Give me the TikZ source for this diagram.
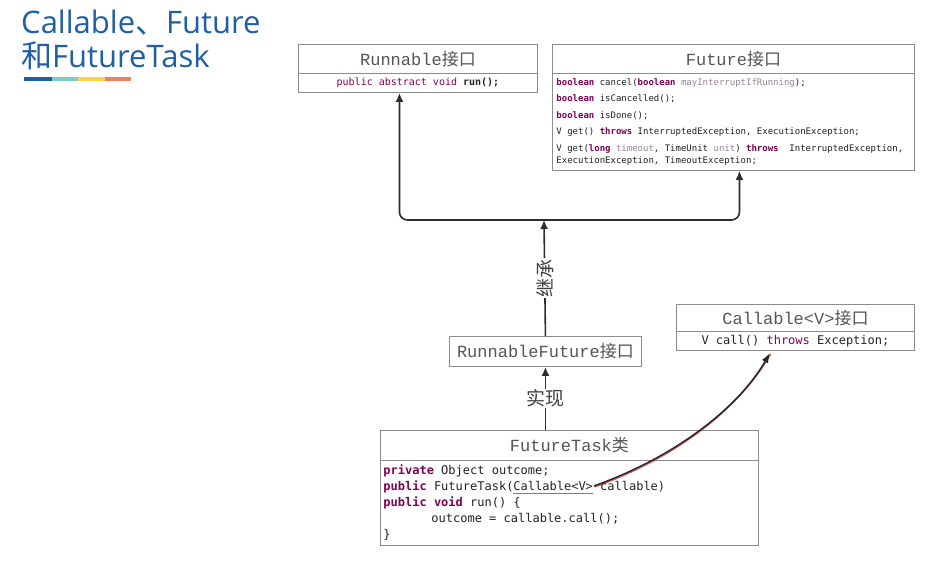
\documentclass[tikz,border=0pt]{standalone}
\usepackage{fontspec}
\usetikzlibrary{arrows.meta}
\setmainfont{Open Sans}
\setmonofont{DejaVu Sans Mono}
\newfontfamily\cjk{Noto Sans CJK SC}
\newfontfamily\titlemono{Liberation Mono}
\definecolor{ttlblue}{RGB}{31,95,166}
\definecolor{barteal}{RGB}{126,203,203}
\definecolor{baryellow}{RGB}{249,214,74}
\definecolor{barorange}{RGB}{240,128,96}
\definecolor{kw}{RGB}{127,0,85}
\definecolor{prm}{RGB}{150,130,150}
\definecolor{boxline}{RGB}{140,140,140}
\definecolor{conncol}{RGB}{45,45,45}
\definecolor{hdr}{RGB}{85,85,85}
\definecolor{codecol}{RGB}{34,34,34}
\newcommand\fixsp{\fontdimen2\font=0.602em\fontdimen3\font=0pt\fontdimen4\font=0pt\fontdimen7\font=0pt}
\newcommand\codesz[2]{\ttfamily\fontsize{#1}{#2}\selectfont\fixsp}
\newcommand\monosp{\spaceskip=0.602em\xspaceskip=0.602em\relax}
\newcommand\kwd[1]{{\color{kw}\bfseries\fixsp #1}}
\newcommand\kwl[1]{{\color{kw}#1}}
\newcommand\prm[1]{{\color{prm}#1}}
\newcommand\ulgray[1]{\setbox0\hbox{#1}\rlap{\color{gray}\rule[-3pt]{\wd0}{1.1pt}}\box0\relax}
\begin{document}
\begin{tikzpicture}[x=1pt,y=-1pt,
  box/.style={draw=boxline,line width=0.9pt,fill=white,inner sep=0pt,anchor=north west,text=codecol},
  hdrbox/.style={box,font=\titlemono\fontsize{17}{17}\selectfont,text=hdr},
  conn/.style={draw=conncol,line width=1.6pt,-{Latex[length=9pt,width=8pt]}},
  lbl/.style={fill=white,inner sep=1pt,font=\cjk\fontsize{19}{19}\selectfont,text=black!75}]

\useasboundingbox (0,0) rectangle (946,566);
\fill[white] (0,0) rectangle (946,566);

% title
\node[anchor=base west,inner sep=0pt,text=ttlblue,font=\fontsize{31}{36}\selectfont] (t1) at (21,33) {Callable{\cjk 、}Future};
\node[anchor=base west,inner sep=0pt,text=ttlblue,font=\fontsize{31}{36}\selectfont] (t2) at (21,67) {{\cjk 和}FutureTask};
\fill[ttlblue] (24,77) rectangle (52,81);
\fill[barteal] (52,77) rectangle (78,81);
\fill[baryellow] (78,77) rectangle (105,81);
\fill[barorange] (105,77) rectangle (131,81);

% Runnable
\node[hdrbox,minimum width=239pt,minimum height=29pt] (runH) at (298,44) {Runnable{\cjk 接口}};
\node[box,minimum width=239pt,minimum height=19pt,font=\codesz{10}{12}] (runB) at (298,73) {\kwl{public abstract void} \textbf{run();}};

% Future
\node[hdrbox,minimum width=362pt,minimum height=29pt] (futH) at (552,44) {Future{\cjk 接口}};
\node[box,minimum width=362pt,minimum height=97pt,text width=354pt,align=left,font=\codesz{9}{12.5}] (futB) at (552,73) {\monosp
\kwd{boolean} cancel(\kwd{boolean} \prm{mayInterruptIfRunning});\\[4pt]
\kwd{boolean} isCancelled();\\[4pt]
\kwd{boolean} isDone();\\[4pt]
V get() \kwd{throws} InterruptedException, ExecutionException;\\[4pt]
V get(\kwd{long} \prm{timeout}, TimeUnit \prm{unit}) \kwd{throws}\ \ InterruptedException,\\
ExecutionException, TimeoutException;};

% RunnableFuture
\node[hdrbox,minimum width=192pt,minimum height=30pt] (rf) at (449,336) {RunnableFuture{\cjk 接口}};

% Callable
\node[hdrbox,minimum width=238pt,minimum height=27pt] (caH) at (676,304) {Callable<V>{\cjk 接口}};
\node[box,minimum width=238pt,minimum height=19pt,font=\codesz{12}{14}] (caB) at (676,331) {V call() \kwl{throws} Exception;};

% FutureTask
\node[hdrbox,minimum width=378pt,minimum height=30pt] (ftH) at (380,430) {FutureTask{\cjk 类}};
\node[box,minimum width=378pt,minimum height=85pt,text width=372pt,align=left,font=\codesz{12}{16}] (ftB) at (380,460) {\monosp
\kwd{private} Object outcome;\\
\kwd{public} FutureTask(\ulgray{Callable<V>} callable)\\
\kwd{public void} run() \{\\
\hspace*{48pt}outcome = callable.call();\\
\}};

% connectors
\coordinate (jn) at (544,220);
\draw[conn,rounded corners=8pt] (jn) -| ([xshift=-18.5pt]runB.south);
\draw[conn,rounded corners=8pt] (jn) -| ([xshift=6pt]futB.south);
\draw[conn] (rf.north) -- node[lbl,rotate=90] (jc) {继承} (jn);
\draw[conn] (ftH.north -| rf.south) -- node[lbl] (sx) {实现} (rf.south);

\coordinate (cv) at (594,486);
\coordinate (ct) at ([xshift=94pt,yshift=-2pt]caB.south west);
\draw[red!80!black,line width=1.4pt,opacity=0.6,transform canvas={xshift=0.9pt,yshift=-0.9pt}] (cv) .. controls (680,455) and (740,405) .. (ct);
\draw[draw=black!85,line width=1.5pt,-{Latex[length=10pt,width=7pt]}] (cv) .. controls (680,455) and (740,405) .. (ct);
\end{tikzpicture}
\end{document}
